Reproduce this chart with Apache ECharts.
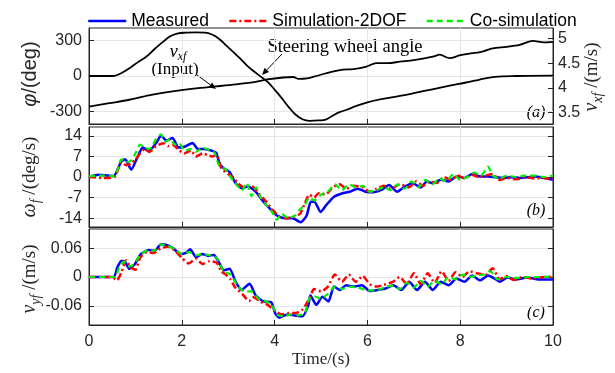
<!DOCTYPE html>
<html><head><meta charset="utf-8">
<script src="https://cdn.jsdelivr.net/npm/echarts@6/dist/echarts.min.js"></script>
<style>html,body{margin:0;padding:0;background:#fff}#c{width:615px;height:373px}</style>
</head><body><div id="c"></div>
<script>
// ---------- tick labels ----------
const xTicks = [0, 2, 4, 6, 8, 10];
const steerTicks = [-300, 0, 300];
const vxTicks = [3.5, 4, 4.5, 5];
const omegaTicks = [-14, -7, 0, 7, 14];
const vyTicks = [-0.06, 0, 0.06];
const seriesNames = ['Measured', 'Simulation-2DOF', 'Co-simulation'];

// ---------- panel (a): [time s, value] ----------
const steerAngle = [[0,0],[0.52,0],[0.7,25],[0.88,68],[1.05,115],[1.24,165],[1.42,230],[1.6,290],[1.75,335],[1.9,358],[2.1,366],[2.3,368],[2.5,366],[2.65,350],[2.8,315],[2.95,260],[3.1,205],[3.25,150],[3.4,90],[3.55,40],[3.7,-5],[3.85,-50],[4.0,-115],[4.15,-185],[4.3,-260],[4.45,-325],[4.6,-365],[4.75,-378],[4.95,-375],[5.1,-368],[5.25,-335],[5.4,-305],[5.55,-285],[5.75,-255],[6.0,-222],[6.3,-195],[6.7,-168],[7.0,-145],[7.4,-112],[7.8,-80],[8.1,-57],[8.4,-32],[8.6,-15],[8.9,-3],[9.2,0],[10,3]];
const vxf = [[0,3.62],[0.44,3.69],[0.87,3.76],[1.29,3.85],[1.8,3.93],[2.3,3.99],[2.74,4.03],[3.16,4.07],[3.59,4.12],[3.84,4.17],[4.18,4.21],[4.4,4.22],[4.52,4.18],[4.7,4.19],[4.9,4.24],[5.2,4.32],[5.47,4.37],[5.7,4.38],[5.98,4.43],[6.19,4.50],[6.45,4.50],[6.7,4.53],[7.0,4.56],[7.41,4.63],[7.56,4.67],[7.77,4.60],[8.0,4.66],[8.27,4.70],[8.5,4.74],[8.7,4.80],[9.0,4.83],[9.28,4.87],[9.57,4.95],[9.8,4.92],[10,4.93]];

// ---------- panel (b): yaw rate omega_f (deg/s) ----------
const omegaMeasured = [[0,0],[0.2,0.8],[0.4,0.5],[0.53,0.3],[0.7,5.4],[0.78,6],[0.91,2.5],[1.04,6.6],[1.16,10],[1.29,8.9],[1.46,11.8],[1.55,14.1],[1.67,12.4],[1.8,13.3],[1.93,10],[2.06,10.3],[2.23,11.6],[2.35,9.5],[2.48,9.5],[2.65,8.9],[2.74,8.3],[2.82,4.3],[2.91,2.9],[3.03,1.7],[3.16,-2.1],[3.29,-3.8],[3.42,-3.2],[3.59,-5],[3.76,-8.4],[3.93,-11.3],[4.05,-13.1],[4.22,-14],[4.39,-14],[4.56,-15.4],[4.69,-13.1],[4.78,-8.4],[4.86,-8.4],[4.99,-11.9],[5.11,-9.6],[5.28,-6.7],[5.45,-5.6],[5.62,-5],[5.79,-4],[5.96,-5],[6.13,-5.2],[6.3,-4.4],[6.47,-2.7],[6.64,-5],[6.81,-3.2],[6.98,-2.1],[7.15,-3.6],[7.28,-1.5],[7.41,-2.1],[7.58,-0.9],[7.75,-1.5],[7.92,0.2],[8.09,-0.3],[8.26,1],[8.43,0.2],[8.6,0.2],[8.77,-0.1],[8.94,-0.3],[9.11,-0.1],[9.28,-0.3],[9.45,-0.1],[9.62,0.2],[9.79,-0.3],[10,-0.9]];
const omegaSim2DOF = [[0,0],[0.3,-0.3],[0.55,0],[0.7,5],[0.8,4],[0.9,4.5],[1.0,6],[1.1,8],[1.2,9.5],[1.3,8.5],[1.45,10.5],[1.6,11.5],[1.7,10.5],[1.8,11],[1.95,9],[2.05,8],[2.2,9],[2.3,7],[2.45,8],[2.55,7.5],[2.65,7],[2.75,7.5],[2.85,3],[3.0,1],[3.1,0],[3.2,-2],[3.35,-3.5],[3.5,-3],[3.65,-5.5],[3.8,-8],[3.95,-11],[4.1,-13.5],[4.25,-14],[4.4,-13.5],[4.55,-12.5],[4.65,-9],[4.75,-6],[4.85,-7],[4.95,-5.5],[5.1,-6],[5.25,-3.5],[5.4,-2.5],[5.55,-4],[5.7,-3],[5.9,-3.5],[6.05,-5],[6.2,-4],[6.35,-3],[6.5,-4],[6.7,-2.5],[6.9,-3.5],[7.05,-1.5],[7.2,-3],[7.35,-1.5],[7.5,-2],[7.65,0],[7.8,-1],[7.95,0.5],[8.1,-0.5],[8.25,0.8],[8.4,0],[8.55,0.5],[8.7,1],[8.85,-1],[9.0,-0.3],[9.2,-0.8],[9.4,0],[9.6,-0.5],[9.8,-0.3],[10,-0.8]];
const omegaCoSim = [[0,0.3],[0.3,0.5],[0.55,0.3],[0.7,6],[0.8,5],[0.9,5.5],[1.0,8],[1.1,11],[1.2,10],[1.3,9.5],[1.45,13],[1.55,14.5],[1.65,12],[1.75,13],[1.85,11],[1.95,11.5],[2.05,9],[2.2,9.5],[2.3,8.5],[2.45,10],[2.6,9],[2.7,8.5],[2.8,4],[2.95,2.5],[3.05,0],[3.15,-2],[3.3,-4.5],[3.4,-2],[3.5,-6.5],[3.6,-3.5],[3.7,-7],[3.8,-9],[3.95,-12],[4.05,-14.5],[4.15,-12.5],[4.3,-14],[4.45,-13],[4.55,-11],[4.65,-9.5],[4.75,-7],[4.85,-8],[5.0,-6],[5.15,-5],[5.3,-2.5],[5.45,-4.5],[5.6,-2.5],[5.75,-3.5],[5.9,-3],[6.05,-5],[6.2,-4.5],[6.35,-3.5],[6.5,-4.5],[6.65,-2.5],[6.8,-4],[6.95,-1.5],[7.1,-3.5],[7.25,-1],[7.4,-2.5],[7.55,-0.5],[7.7,-1.5],[7.85,1],[8.0,-1],[8.15,0],[8.3,1.5],[8.45,0.5],[8.6,3.5],[8.7,0.5],[8.85,-0.5],[9.0,0.5],[9.2,0],[9.4,0.5],[9.6,0.5],[9.8,0],[10,0.5]];

// ---------- panel (c): lateral velocity v_yf (m/s) ----------
const vyMeasured = [[0,0],[0.53,0],[0.61,0.020],[0.70,0.034],[0.78,0.031],[0.87,0.017],[0.99,0.027],[1.12,0.048],[1.29,0.056],[1.42,0.055],[1.55,0.068],[1.67,0.067],[1.8,0.061],[1.97,0.048],[2.1,0.051],[2.18,0.058],[2.31,0.041],[2.44,0.048],[2.57,0.044],[2.69,0.046],[2.78,0.034],[2.91,0.014],[3.03,0.017],[3.16,-0.010],[3.29,-0.027],[3.46,-0.014],[3.59,-0.038],[3.76,-0.051],[3.93,-0.053],[4.01,-0.075],[4.1,-0.085],[4.27,-0.078],[4.43,-0.080],[4.6,-0.082],[4.73,-0.058],[4.77,-0.038],[4.9,-0.058],[5.03,-0.041],[5.16,-0.051],[5.28,-0.020],[5.41,-0.027],[5.54,-0.017],[5.71,-0.020],[5.88,-0.017],[6.05,-0.029],[6.22,-0.027],[6.39,-0.024],[6.56,-0.017],[6.73,-0.027],[6.9,-0.010],[7.07,-0.027],[7.24,-0.010],[7.41,-0.027],[7.58,-0.010],[7.75,-0.017],[7.92,-0.003],[8.09,-0.010],[8.26,0.003],[8.43,-0.007],[8.6,0.003],[8.77,-0.005],[8.85,-0.010],[9.02,-0.001],[9.19,-0.005],[9.45,-0.001],[9.7,-0.005],[10,-0.005]];
const vySim2DOF = [[0,0],[0.5,0],[0.6,-0.007],[0.7,0.01],[0.8,0.035],[0.9,0.02],[1.0,0.015],[1.1,0.04],[1.25,0.052],[1.4,0.05],[1.55,0.06],[1.7,0.063],[1.85,0.055],[2.0,0.04],[2.15,0.028],[2.3,0.038],[2.45,0.027],[2.6,0.033],[2.75,0.03],[2.85,0.012],[2.95,0.005],[3.05,-0.005],[3.15,-0.022],[3.3,-0.035],[3.45,-0.05],[3.55,-0.042],[3.7,-0.052],[3.85,-0.058],[4.0,-0.07],[4.15,-0.078],[4.3,-0.075],[4.45,-0.075],[4.6,-0.068],[4.75,-0.045],[4.85,-0.025],[5.0,-0.03],[5.15,-0.02],[5.3,0.005],[5.45,-0.01],[5.6,0.005],[5.75,-0.01],[5.9,0.002],[6.05,-0.015],[6.2,-0.02],[6.4,-0.015],[6.55,-0.01],[6.7,0.0],[6.85,-0.015],[7.0,0.008],[7.15,-0.015],[7.3,0.008],[7.45,-0.012],[7.6,0.012],[7.75,-0.008],[7.9,0.01],[8.05,0.0],[8.2,0.012],[8.35,0.008],[8.55,0.005],[8.7,0.018],[8.85,-0.005],[9.0,0.002],[9.15,-0.006],[9.35,0.0],[9.55,-0.003],[9.8,0.0],[10,0.0]];
const vyCoSim = [[0,0],[0.55,0],[0.65,0.02],[0.75,0.032],[0.85,0.022],[0.95,0.025],[1.1,0.045],[1.25,0.055],[1.4,0.055],[1.55,0.068],[1.7,0.065],[1.85,0.058],[2.0,0.048],[2.15,0.052],[2.3,0.045],[2.45,0.048],[2.6,0.045],[2.75,0.04],[2.9,0.012],[3.05,0.005],[3.2,-0.018],[3.35,-0.03],[3.5,-0.03],[3.65,-0.045],[3.8,-0.05],[3.95,-0.06],[4.05,-0.078],[4.2,-0.082],[4.35,-0.078],[4.5,-0.08],[4.65,-0.075],[4.75,-0.045],[4.85,-0.04],[5.0,-0.045],[5.15,-0.035],[5.3,-0.02],[5.45,-0.025],[5.6,-0.02],[5.8,-0.022],[6.0,-0.028],[6.2,-0.028],[6.4,-0.02],[6.55,-0.018],[6.7,-0.025],[6.85,-0.012],[7.0,-0.022],[7.15,-0.008],[7.3,-0.02],[7.45,-0.008],[7.6,-0.015],[7.75,0.0],[7.9,-0.005],[8.05,0.005],[8.2,0.0],[8.35,0.003],[8.5,0.005],[8.65,0.012],[8.8,-0.005],[9.0,0.0],[9.2,-0.002],[9.5,0.0],[9.8,0.0],[10,0.002]];

// ---------- styling ----------
const SANS = 'Liberation Sans', SERIF = 'Liberation Serif';
const AX = '#262626', GRIDC = '#e6e6e6';
const C_MEAS = '#0000ff', C_SIM = '#ff0000', C_CO = '#00ee00';

const chart = echarts.init(document.getElementById('c'), null, {renderer: 'canvas'});

const grids = [
  {left: 89, top: 28, width: 464, height: 96},
  {left: 89, top: 127, width: 464, height: 100},
  {left: 89, top: 229, width: 464, height: 96}
].map(g => Object.assign(g, {show: true, borderColor: AX, borderWidth: 1, backgroundColor: 'transparent'}));

function xAx(i) {
  return {
    gridIndex: i, type: 'value', min: 0, max: 10, interval: 2,
    axisLine: {show: true, onZero: false, lineStyle: {color: AX}},
    axisTick: {show: true, inside: true, length: 5, lineStyle: {color: AX}},
    axisLabel: {show: i === 2, fontSize: 16, fontFamily: SANS, color: AX, margin: 9},
    splitLine: {show: true, lineStyle: {color: GRIDC}},
    name: i === 2 ? 'Time/(s)' : '', nameLocation: 'middle', nameGap: 24,
    nameTextStyle: {fontSize: 17, fontFamily: SERIF, color: AX}
  };
}
function yAx(i, min, max, ticks, opts) {
  opts = opts || {};
  return {
    gridIndex: i, type: 'value', min: min, max: max, position: opts.right ? 'right' : 'left',
    axisLine: {show: true, onZero: false, lineStyle: {color: AX}},
    axisTick: {show: true, inside: true, length: 5, customValues: ticks, lineStyle: {color: AX}},
    axisLabel: {show: !opts.noLabel, customValues: ticks, fontSize: 16, fontFamily: SANS, color: AX,
      margin: opts.right ? 5 : 7, formatter: opts.fmt || (v => String(v))},
    splitLine: {show: !!opts.split, customValues: ticks, lineStyle: {color: GRIDC}}
  };
}
const vyFmt = v => (Math.abs(v) < 1e-9 ? '0' : v.toFixed(2));

const yAxes = [
  yAx(0, -405, 405, steerTicks, {split: true}),
  yAx(0, 3.27, 5.21, vxTicks, {right: true}),
  yAx(1, -17, 17, omegaTicks, {split: true}),
  yAx(1, -17, 17, omegaTicks, {right: true, noLabel: true}),
  yAx(2, -0.1, 0.1, vyTicks, {split: true, fmt: vyFmt}),
  yAx(2, -0.1, 0.1, vyTicks, {right: true, noLabel: true})
];

function line(name, data, xi, yi, color, width, type, smooth) {
  return {
    name: name, type: 'line', xAxisIndex: xi, yAxisIndex: yi, data: data,
    symbol: 'none', showSymbol: false, smooth: smooth, clip: true,
    lineStyle: {color: color, width: width, type: type}, itemStyle: {color: color},
    emphasis: {disabled: true}
  };
}
const DASHDOT = [7, 3, 2, 3], DASH = [6, 4];
const series = [
  line('steer', steerAngle, 0, 0, '#000', 1.8, 'solid', 0.4),
  line('vxf', vxf, 0, 1, '#000', 1.8, 'solid', 0.3),
  line(seriesNames[0], omegaMeasured, 1, 2, C_MEAS, 2.5, 'solid', 0.2),
  line(seriesNames[1], omegaSim2DOF, 1, 2, C_SIM, 2.5, DASHDOT, 0.2),
  line(seriesNames[2], omegaCoSim, 1, 2, C_CO, 2.2, DASH, 0.2),
  line(seriesNames[0], vyMeasured, 2, 4, C_MEAS, 2.5, 'solid', 0.2),
  line(seriesNames[1], vySim2DOF, 2, 4, C_SIM, 2.5, DASHDOT, 0.2),
  line(seriesNames[2], vyCoSim, 2, 4, C_CO, 2.2, DASH, 0.2)
];

// ---------- text helpers (titles with sub-scripts, rotated) ----------
const mctx = document.createElement('canvas').getContext('2d');
function fontStr(p) { return (p.italic ? 'italic ' : '') + p.size + 'px "' + p.family + '"'; }
function richTitle(cx, cy, parts, rotation) {
  let total = 0;
  parts.forEach(p => { mctx.font = fontStr(p); p.w = mctx.measureText(p.t).width; total += p.w; });
  let x = -total / 2;
  const children = parts.map(p => {
    const el = {type: 'text', x: x, y: p.dy || 0, silent: true,
      style: {text: p.t, fontSize: p.size, fontFamily: p.family, fontStyle: p.italic ? 'italic' : 'normal',
        fill: p.color || '#000', align: 'left', verticalAlign: 'middle'}};
    x += p.w;
    return el;
  });
  return {type: 'group', x: cx, y: cy, rotation: rotation || 0, children: children};
}
function arrow(x0, y0, x1, y1) {
  const a = Math.atan2(y1 - y0, x1 - x0), L = 7, W = 3;
  const bx = x1 - L * Math.cos(a), by = y1 - L * Math.sin(a);
  return [
    {type: 'line', silent: true, shape: {x1: x0, y1: y0, x2: bx, y2: by}, style: {stroke: '#000', lineWidth: 1}},
    {type: 'polygon', silent: true, shape: {points: [[x1, y1],
      [bx + W * Math.sin(a), by - W * Math.cos(a)], [bx - W * Math.sin(a), by + W * Math.cos(a)]]},
      style: {fill: '#000'}}
  ];
}
const R = Math.PI / 2;
const graphics = [
  richTitle(30, 74, [{t: 'φ', size: 20, family: SANS, italic: true, color: AX}, {t: '/(deg)', size: 20, family: SANS, color: AX}], R),
  richTitle(30, 177, [{t: 'ω', size: 20, family: SERIF, italic: true, color: AX}, {t: 'f', size: 14, family: SERIF, italic: true, dy: 6, color: AX}, {t: ' /(deg/s)', size: 19, family: SERIF, color: AX}], R),
  richTitle(30, 279, [{t: 'v', size: 20, family: SERIF, italic: true, color: AX}, {t: 'yf', size: 14, family: SERIF, italic: true, dy: 6, color: AX}, {t: ' /(m/s)', size: 19, family: SERIF, color: AX}], R),
  richTitle(592, 77, [{t: 'v', size: 20, family: SERIF, italic: true, color: AX}, {t: 'xf', size: 14, family: SERIF, italic: true, dy: 6, color: AX}, {t: ' /(m/s)', size: 19, family: SERIF, color: AX}], R),
  richTitle(178, 52, [{t: 'v', size: 18, family: SERIF, italic: true}, {t: 'xf', size: 12, family: SERIF, italic: true, dy: 5}], 0),
  richTitle(175, 70, [{t: '(Input)', size: 17, family: SERIF}], 0),
  richTitle(345, 47, [{t: 'Steering wheel angle', size: 18.5, family: SERIF}], 0),
  richTitle(536, 113, [{t: '(a)', size: 16, family: SERIF, italic: true}], 0),
  richTitle(536, 211, [{t: '(b)', size: 16, family: SERIF, italic: true}], 0),
  richTitle(536, 313, [{t: '(c)', size: 16, family: SERIF, italic: true}], 0)
].concat(arrow(197, 75, 216, 89), arrow(282, 54, 262, 75));

chart.setOption({
  animation: false,
  backgroundColor: '#fff',
  grid: grids,
  xAxis: [xAx(0), xAx(1), xAx(2)],
  yAxis: yAxes,
  legend: {
    data: seriesNames, left: 82, top: 7, itemWidth: 38, itemHeight: 12, itemGap: 19,
    itemStyle: {opacity: 0, borderWidth: 0},
    lineStyle: {width: 2.5},
    textStyle: {fontSize: 17.5, fontFamily: SANS, color: '#000'}, selectedMode: false
  },
  series: series,
  graphic: graphics
});
</script>
</body></html>
